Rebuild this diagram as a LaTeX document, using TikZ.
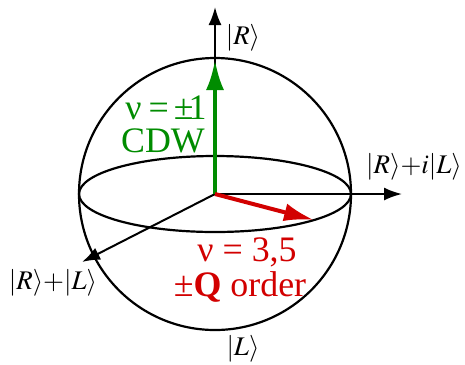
\documentclass[tikz,border=0pt]{standalone}
\usepackage{mathptmx}
\usepackage{fontspec}
\setmainfont{Liberation Serif}
\usetikzlibrary{arrows.meta,shapes.geometric}
\definecolor{cdwgreen}{RGB}{0,140,0}
\definecolor{qred}{RGB}{210,0,0}
\tikzset{
  axis/.style={line width=2bp,-{Latex[length=18bp,width=13bp]}},
  outline/.style={draw,line width=2.2bp},
  vec/.style={line width=4bp,-{Latex[length=30bp,width=18bp]}},
  lab/.style={font=\fontsize{27}{29}\selectfont,inner sep=0pt},
  big/.style={font=\fontsize{36}{38}\selectfont,inner sep=0pt,align=center}
}
\begin{document}
\begin{tikzpicture}[x=1bp,y=-1bp]
\useasboundingbox (0,0) rectangle (465,364);
\coordinate (O) at (215,194);
\coordinate (top) at (215,7);
\coordinate (right) at (402,194);
\coordinate (diag) at (82,262);
\coordinate (g) at (215,60);
\coordinate (r) at (314,220);
\node[outline,circle,minimum size=272bp,inner sep=0pt] (sphere) at (O) {};
\node[outline,ellipse,minimum width=272bp,minimum height=76bp,inner sep=0pt] (equator) at (O) {};
\draw[axis] (O) -- (top);
\draw[axis] (O) -- (right);
\draw[axis] (O) -- (diag);
\draw[vec,cdwgreen] (O) -- (g);
\draw[vec,qred] (O) -- (r);
\node[lab] (lR) at (243,38) {$|R\rangle$};
\node[lab] (lRiL) at (414,167) {$|R\rangle{+}i|L\rangle$};
\node[lab] (lRL) at (53,283) {$|R\rangle{+}|L\rangle$};
\node[lab] (lL) at (243,349) {$|L\rangle$};
\node[big,text=cdwgreen] (tg1) at (166,108) {ν\kern7bp=\kern5bp±\kern-5bp1};
\node[big,text=cdwgreen] (tg2) at (163,141) {CDW};
\node[big,text=qred] (tr1) at (247,252) {ν = 3,5};
\node[big,text=qred] (tr2) at (240,287) {±\textbf{Q} order};
\end{tikzpicture}
\end{document}
